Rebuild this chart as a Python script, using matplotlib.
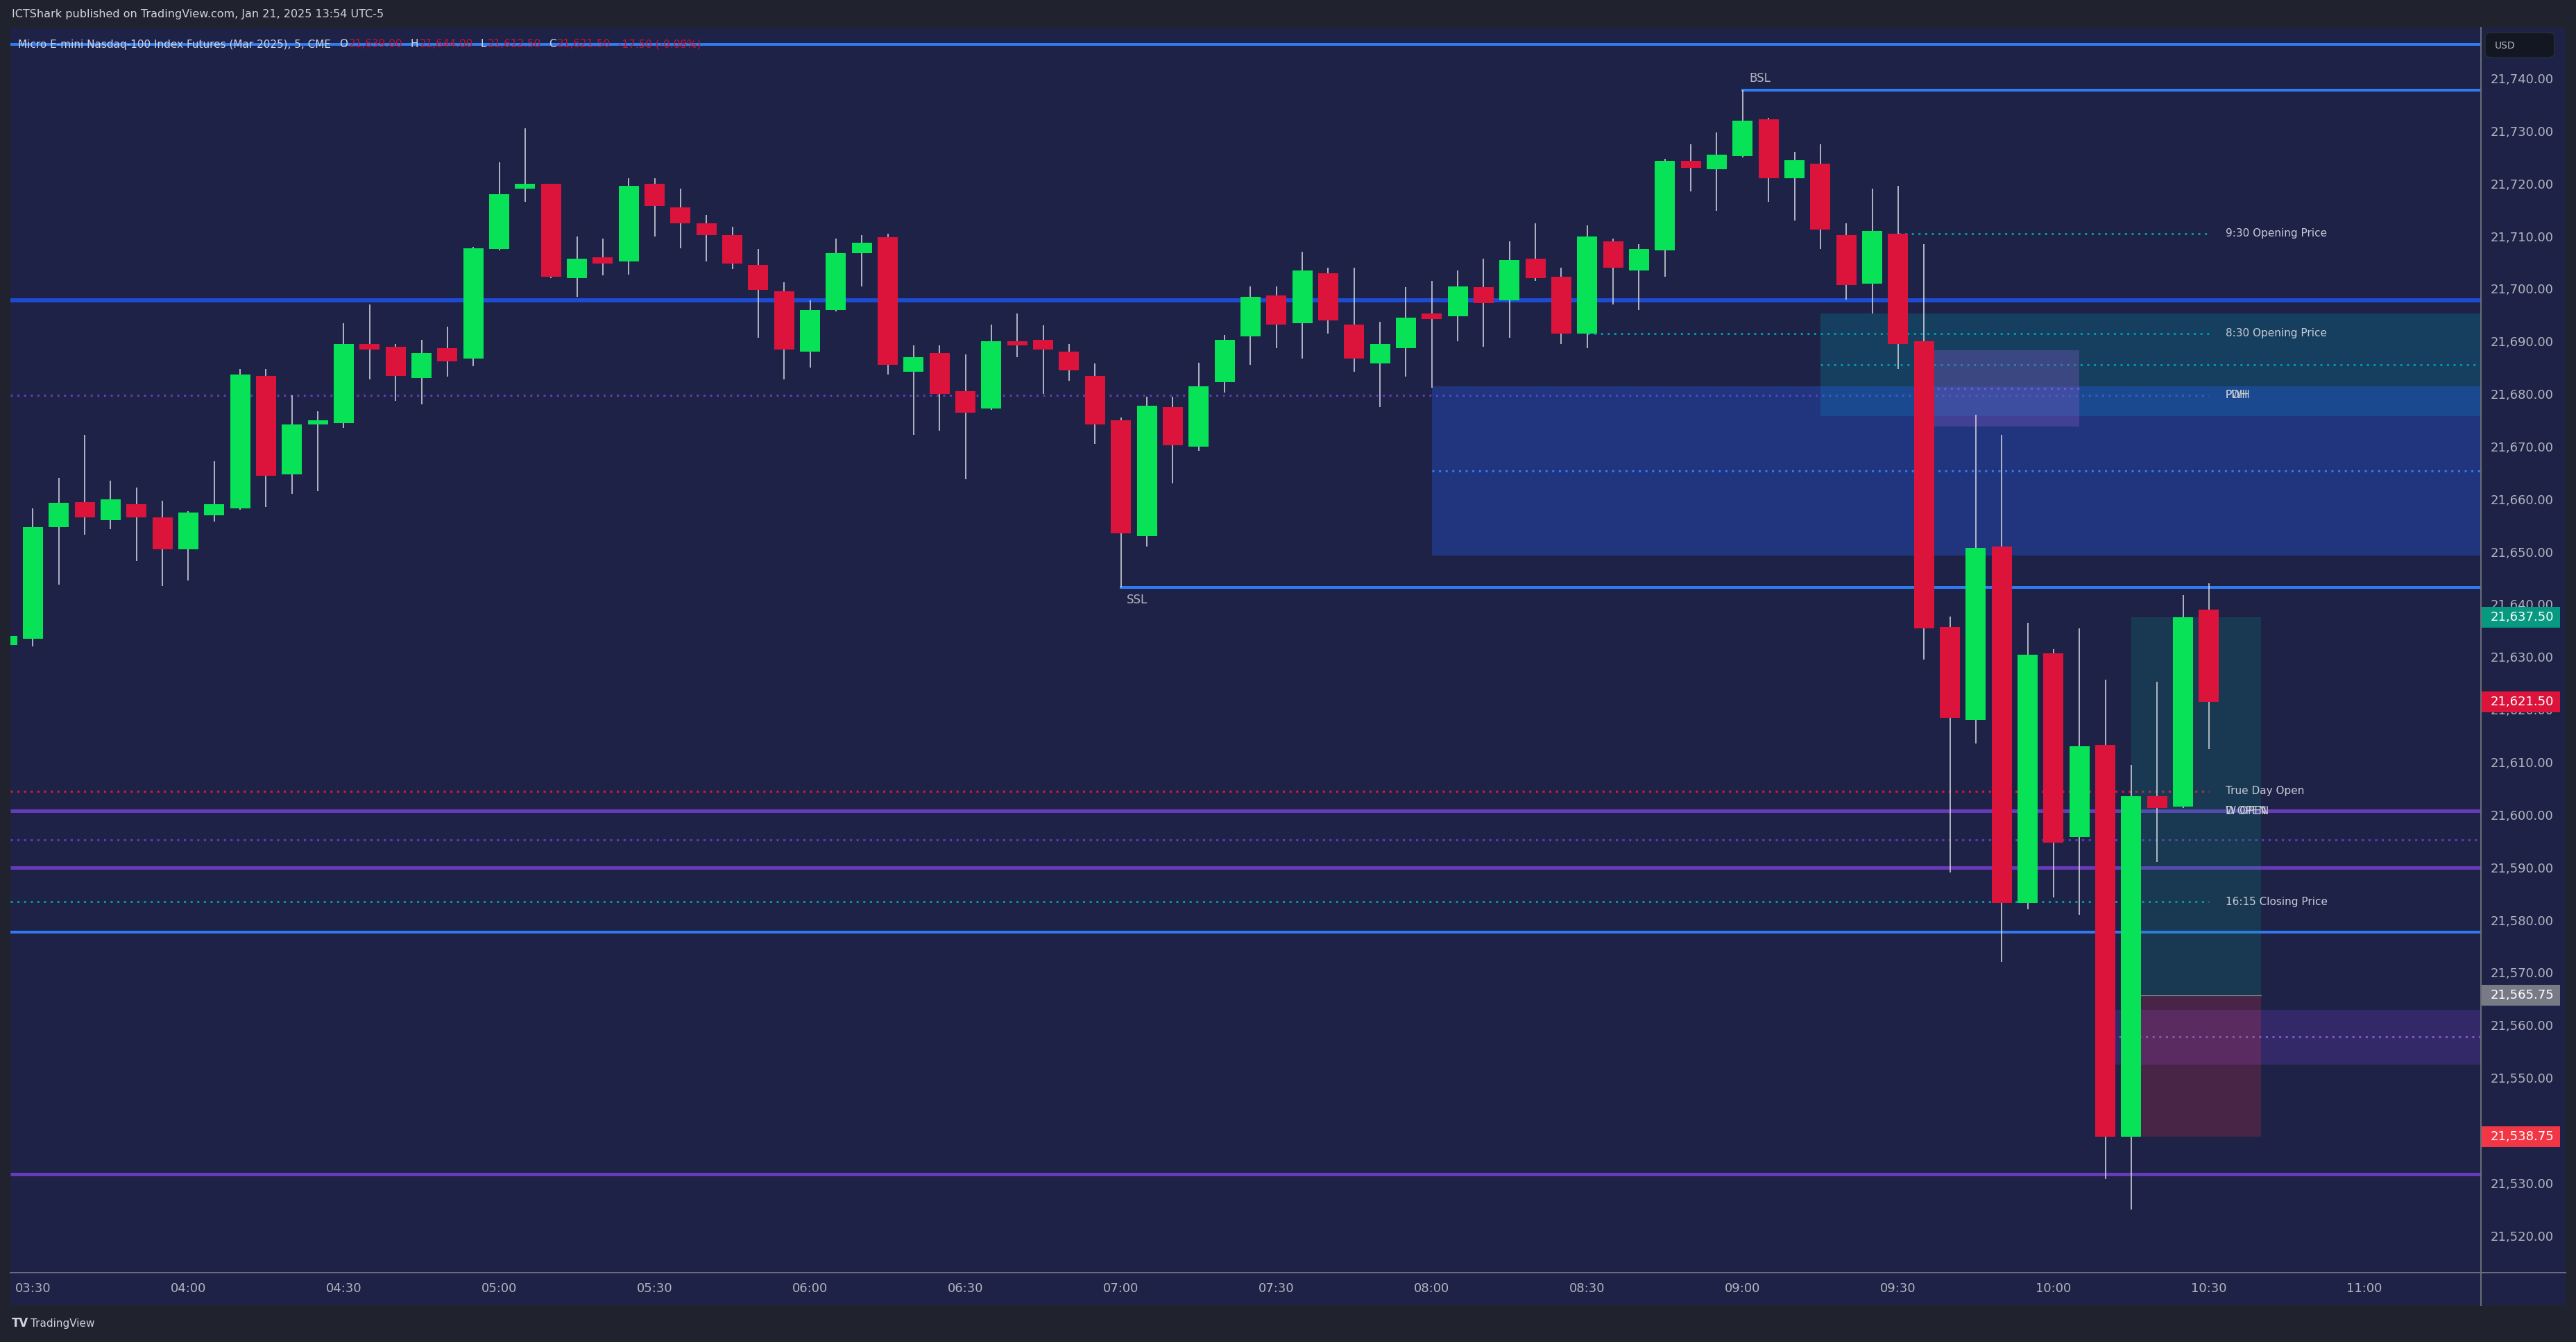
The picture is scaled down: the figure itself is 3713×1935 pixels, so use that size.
import matplotlib
matplotlib.use('Agg')
import matplotlib.pyplot as plt
from matplotlib.patches import Rectangle, FancyBboxPatch
from matplotlib.transforms import blended_transform_factory
from matplotlib.lines import Line2D

# ---------------- data ----------------
bar_index = list(range(-1, 85))          # 5-minute bars, 0 = 03:30
opens = [21632.25, 21633.5, 21654.75, 21659.5, 21656.0, 21659.0, 21656.5, 21650.5, 21657.0, 21658.25,
         21683.5, 21664.75, 21674.25, 21674.5, 21689.5, 21689.0, 21683.0, 21688.75, 21686.75, 21707.5,
         21719.0, 21720.0, 21702.0, 21706.0, 21705.25, 21720.0, 21715.5, 21712.5, 21710.25, 21704.5,
         21699.5, 21688.0, 21696.0, 21706.75, 21709.75, 21684.25, 21687.75, 21680.5, 21677.25, 21690.0,
         21690.25, 21688.0, 21683.5, 21675.0, 21653.0, 21677.5, 21670.0, 21682.25, 21691.0, 21698.75,
         21693.5, 21703.0, 21693.25, 21685.75, 21688.75, 21695.25, 21694.75, 21700.25, 21697.75, 21705.75,
         21702.25, 21691.5, 21709.0, 21703.5, 21707.25, 21724.25, 21722.75, 21725.25, 21732.25, 21721.0,
         21723.75, 21710.25, 21701.0, 21710.5, 21690.0, 21635.75, 21618.0, 21651.0, 21583.25, 21630.75,
         21595.75, 21613.25, 21538.75, 21603.5, 21601.5, 21639.0]
highs = [21634.5, 21658.25, 21664.0, 21672.25, 21663.5, 21662.25, 21659.75, 21657.75, 21667.25, 21684.75,
         21684.75, 21679.75, 21676.75, 21693.5, 21697.0, 21689.5, 21690.25, 21692.75, 21708.0, 21724.0,
         21730.5, 21720.0, 21710.0, 21709.5, 21721.0, 21721.0, 21719.0, 21714.0, 21711.75, 21707.5,
         21701.25, 21697.75, 21709.5, 21710.25, 21710.5, 21689.25, 21689.25, 21687.5, 21693.25, 21695.25,
         21693.0, 21689.5, 21685.75, 21675.5, 21679.5, 21679.5, 21686.0, 21691.25, 21700.5, 21700.5,
         21707.0, 21704.0, 21704.0, 21693.75, 21700.25, 21701.5, 21703.5, 21705.75, 21709.0, 21712.5,
         21704.0, 21712.0, 21709.5, 21708.5, 21724.75, 21727.5, 21729.75, 21737.75, 21732.5, 21726.0,
         21727.5, 21712.5, 21719.0, 21719.5, 21708.5, 21637.75, 21676.0, 21672.25, 21636.5, 21631.5,
         21635.5, 21625.75, 21609.5, 21625.25, 21641.75, 21644.0]
lows = [21631.5, 21632.0, 21643.75, 21653.25, 21654.25, 21648.25, 21643.5, 21644.5, 21655.75, 21658.0,
        21658.5, 21661.0, 21661.5, 21673.5, 21682.75, 21678.75, 21678.0, 21683.25, 21685.25, 21707.25,
        21716.5, 21702.0, 21698.5, 21702.5, 21702.75, 21710.0, 21707.75, 21705.25, 21703.75, 21690.75,
        21682.75, 21685.0, 21695.75, 21700.5, 21683.75, 21672.25, 21673.0, 21663.75, 21677.0, 21687.0,
        21680.0, 21682.5, 21670.5, 21643.25, 21651.0, 21663.0, 21669.25, 21680.25, 21685.5, 21688.75,
        21686.75, 21691.5, 21684.25, 21677.5, 21683.25, 21681.25, 21690.0, 21689.0, 21690.75, 21701.5,
        21689.5, 21688.75, 21697.0, 21696.0, 21702.25, 21718.5, 21714.75, 21725.0, 21716.5, 21713.0,
        21707.5, 21698.0, 21695.25, 21684.75, 21629.5, 21589.0, 21613.5, 21572.0, 21582.0, 21584.25,
        21581.0, 21530.75, 21525.0, 21591.0, 21601.25, 21612.5]
closes = [21634.0, 21654.75, 21659.25, 21656.5, 21660.0, 21656.5, 21650.5, 21657.5, 21659.0, 21683.75,
          21664.5, 21674.25, 21675.0, 21689.5, 21688.5, 21683.5, 21687.75, 21686.25, 21707.75, 21718.0,
          21720.0, 21702.25, 21705.75, 21704.75, 21719.5, 21715.75, 21712.5, 21710.25, 21704.75, 21699.75,
          21688.5, 21696.0, 21706.75, 21708.75, 21685.5, 21687.0, 21680.0, 21676.5, 21690.0, 21689.25,
          21688.5, 21684.5, 21674.25, 21653.5, 21677.75, 21670.25, 21681.5, 21690.25, 21698.5, 21693.25,
          21703.5, 21694.0, 21686.75, 21689.5, 21694.5, 21694.25, 21700.5, 21697.25, 21705.5, 21702.0,
          21691.5, 21710.0, 21704.0, 21707.5, 21724.25, 21723.0, 21725.5, 21732.0, 21721.0, 21724.5,
          21711.25, 21700.75, 21711.0, 21689.5, 21635.5, 21618.5, 21650.75, 21583.25, 21630.5, 21594.75,
          21613.0, 21538.75, 21603.5, 21601.25, 21637.5, 21621.5]

time_ticks = [0, 6, 12, 18, 24, 30, 36, 42, 48, 54, 60, 66, 72, 78, 84, 90]
time_labels = ['03:30', '04:00', '04:30', '05:00', '05:30', '06:00', '06:30', '07:00',
               '07:30', '08:00', '08:30', '09:00', '09:30', '10:00', '10:30', '11:00']
price_ticks = list(range(21520, 21741, 10))

# key levels
top_line = 21746.5
htf_line = 21697.75
bsl_price, bsl_start = 21737.75, 66
ssl_price, ssl_start = 21643.25, 42
open_930, open_930_start = 21710.5, 72
open_830, open_830_start = 21691.5, 60
pdh_price = 21679.75
true_day_open = 21604.5
d_open = 21600.75
purple_dotted = 21595.25
purple_line_2 = 21590.0
close_1615 = 21583.5
blue_line_low = 21577.75
purple_line_low = 21531.75
label_end = 84

# boxes: (start bar, top, bottom)
teal_fvg = (69, 21695.25, 21675.75)
blue_fvg = (54, 21681.5, 21649.25)
purple_fvg_up = (73, 79, 21688.25, 21673.75)
purple_fvg_low = (80, 21563.0, 21552.5)
position = (81, 86, 21637.5, 21565.75, 21538.75)   # start, end, target, entry, stop
last_price = 21621.5

# ---------------- figure ----------------
W, H, DPI = 3713, 1935, 100
BG = '#20232d'
NAVY = '#1e2247'
fig = plt.figure(figsize=(W / DPI, H / DPI), dpi=DPI, facecolor=BG)

def fx(px):
    return px / W

def fy(py):
    return 1 - py / H

def pt(px):
    return px * 72.0 / DPI

fig.patches.append(Rectangle((fx(15), fy(1882)), fx(3698) - fx(15), fy(40) - fy(1882),
                             transform=fig.transFigure, facecolor=NAVY, edgecolor='none', zorder=-5))

ax = fig.add_axes([fx(15), fy(1835), fx(3576) - fx(15), fy(40) - fy(1835)])
ax.set_facecolor(NAVY)
XL, XR = -0.868, 94.5
ax.set_xlim(XL, XR)
ax.set_ylim(21512.97, 21749.62)
for s in ax.spines.values():
    s.set_visible(False)

fig.lines.append(Line2D([fx(15), fx(3698)], [fy(1835), fy(1835)], transform=fig.transFigure,
                        color='#6a6d78', lw=pt(2)))
fig.lines.append(Line2D([fx(3576), fx(3576)], [fy(40), fy(1882)], transform=fig.transFigure,
                        color='#6a6d78', lw=pt(2)))

TEAL = '#0097a7'
PURPLE = '#673ab7'
BLUE = '#2f7bf0'
DBLUE = '#1e4bd2'
RED_DOT = '#d81b3c'
DOT = (0, (1, 2.2))

# full width lines
for p, c, w in [(top_line, BLUE, 4), (htf_line, DBLUE, 6), (d_open, PURPLE, 5), (purple_line_2, PURPLE, 5),
                (blue_line_low, BLUE, 4), (purple_line_low, PURPLE, 5)]:
    ax.plot([XL, XR], [p, p], color=c, lw=pt(w), solid_capstyle='butt', zorder=1)
ax.plot([XL, XR], [purple_dotted, purple_dotted], color=PURPLE, lw=pt(3), ls=DOT, zorder=1)

# rays
ax.plot([bsl_start, XR], [bsl_price, bsl_price], color=BLUE, lw=pt(4), zorder=1)
ax.plot([ssl_start, XR], [ssl_price, ssl_price], color=BLUE, lw=pt(4), zorder=1)

# labelled dotted lines
for x0, p, c in [(open_930_start, open_930, TEAL), (open_830_start, open_830, TEAL), (XL, pdh_price, PURPLE),
                 (XL, true_day_open, RED_DOT), (XL, close_1615, TEAL)]:
    ax.plot([x0, label_end], [p, p], color=c, lw=pt(3), ls=DOT, zorder=1)

# boxes
s, t, b = teal_fvg
ax.add_patch(Rectangle((s, b), XR - s, t - b, facecolor=TEAL, alpha=0.25, edgecolor='none', zorder=2))
ax.plot([s, XR], [(t + b) / 2] * 2, color=TEAL, lw=pt(3), ls=DOT, zorder=2)
s, t, b = blue_fvg
ax.add_patch(Rectangle((s, b), XR - s, t - b, facecolor='#2962ff', alpha=0.3, edgecolor='none', zorder=2))
ax.plot([s, XR], [(t + b) / 2] * 2, color=BLUE, lw=pt(3), ls=DOT, zorder=2)
s, e, t, b = purple_fvg_up
ax.add_patch(Rectangle((s, b), e - s, t - b, facecolor='#7e57c2', alpha=0.35, edgecolor='none', zorder=2))
ax.plot([s, e], [(t + b) / 2] * 2, color='#7e57c2', lw=pt(3), ls=DOT, zorder=2)
s, t, b = purple_fvg_low
ax.add_patch(Rectangle((s, b), XR - s, t - b, facecolor=PURPLE, alpha=0.3, edgecolor='none', zorder=2))
ax.plot([s, XR], [(t + b) / 2] * 2, color='#7e57c2', lw=pt(3), ls=DOT, zorder=2)

# position tool
s, e, tgt, ent, stp = position
ax.add_patch(Rectangle((s, ent), e - s, tgt - ent, facecolor='#089981', alpha=0.2, edgecolor='none', zorder=2))
ax.add_patch(Rectangle((s, stp), e - s, ent - stp, facecolor='#f23645', alpha=0.2, edgecolor='none', zorder=2))
ax.plot([s, e], [ent, ent], color='#787b86', lw=pt(1.2), zorder=2)

# candles
GREEN = '#08e256'
RED = '#dc143c'
for i, o, h, l, c in zip(bar_index, opens, highs, lows, closes):
    col = GREEN if c >= o else RED
    ax.plot([i, i], [l, h], color='#d1d4dc', lw=pt(1.6), zorder=3, solid_capstyle='butt')
    bot = min(o, c)
    hgt = max(abs(c - o), 0.25)
    ax.bar(i, hgt, bottom=bot, width=0.777, color=col, edgecolor='none', zorder=4)

# text labels
LBL = '#c9ccd4'
lx = label_end + 0.64
for p, txt in [(open_930, '9:30 Opening Price'), (open_830, '8:30 Opening Price'), (pdh_price, 'PDH'),
               (pdh_price, 'PWH'), (true_day_open, 'True Day Open'), (d_open, 'D OPEN'), (d_open, 'W OPEN'),
               (close_1615, '16:15 Closing Price')]:
    ax.text(lx, p, txt, color=LBL, fontsize=11, va='center', ha='left', zorder=6)

ax.text(bsl_start + 0.25, bsl_price + 1.1, 'BSL', color='#b2b5be', fontsize=12, va='bottom', ha='left', zorder=6)
ax.text(ssl_start + 0.22, ssl_price - 1.2, 'SSL', color='#b2b5be', fontsize=12, va='top', ha='left', zorder=6)

# axes ticks
ax.yaxis.tick_right()
ax.set_yticks(price_ticks)
ax.set_yticklabels(['{:,.2f}'.format(v) for v in price_ticks])
ax.tick_params(axis='y', length=0, pad=10, labelsize=13, labelcolor='#b2b5be')
ax.set_xticks(time_ticks)
ax.set_xticklabels(time_labels)
ax.tick_params(axis='x', length=0, pad=10, labelsize=13, labelcolor='#b2b5be')

# price labels on scale
tr = blended_transform_factory(ax.transAxes, ax.transData)
x1 = 1 + (3690 - 3576) / (3576 - 15)
hh = 30 / 7.585
for p, col in [(tgt, '#089981'), (last_price, RED), (ent, '#787b86'), (stp, '#f23645')]:
    ax.add_patch(Rectangle((1.0, p - hh / 2), x1 - 1.0, hh, transform=tr, facecolor=col, edgecolor='none',
                           clip_on=False, zorder=7))
    ax.text(1.0 + 14 / 3561, p, '{:,.2f}'.format(p), transform=tr, color='white', fontsize=13,
            va='center', ha='left', zorder=8, clip_on=False)

# USD box
fig.patches.append(FancyBboxPatch((fx(3582), fy(83)), fx(3682) - fx(3582), fy(47) - fy(83),
                                  boxstyle='round,pad=0,rounding_size=0.003', transform=fig.transFigure,
                                  facecolor='#131722', edgecolor='#2a2e39', lw=1, zorder=5))
fig.text(fx(3596), fy(66), 'USD', color='#b2b5be', fontsize=10, va='center', ha='left', zorder=6)

# header
fig.text(fx(17), fy(21), 'ICTShark published on TradingView.com, Jan 21, 2025 13:54 UTC-5',
         color='#d1d4dc', fontsize=11.5, va='center', ha='left')
parts = [('Micro E-mini Nasdaq-100 Index Futures (Mar 2025), 5, CME', '#d1d4dc', 0),
         ('O', '#d1d4dc', 9), ('21,639.00', '#c8102e', 1), ('H', '#d1d4dc', 8), ('21,644.00', '#c8102e', 1),
         ('L', '#d1d4dc', 8), ('21,612.50', '#c8102e', 1), ('C', '#d1d4dc', 8), ('21,621.50', '#c8102e', 1),
         ('-17.50 (-0.08%)', '#c8102e', 8)]
prev = None
for txt, col, gap in parts:
    if prev is None:
        prev = fig.text(fx(26), fy(64), txt, color=col, fontsize=11, va='center', ha='left', zorder=10)
    else:
        prev = ax.annotate(txt, xy=(1, 0.5), xycoords=prev, xytext=(gap, 0), textcoords='offset points',
                           color=col, fontsize=11, va='center', ha='left', zorder=10, annotation_clip=False)

# TradingView mark
fig.text(fx(17), fy(1908), 'TV', color='#d1d4dc', fontsize=12, fontweight='bold', va='center', ha='left')
fig.text(fx(44), fy(1908), 'TradingView', color='#d1d4dc', fontsize=11, va='center', ha='left')

fig.savefig('out.png', dpi=DPI, facecolor=BG)
